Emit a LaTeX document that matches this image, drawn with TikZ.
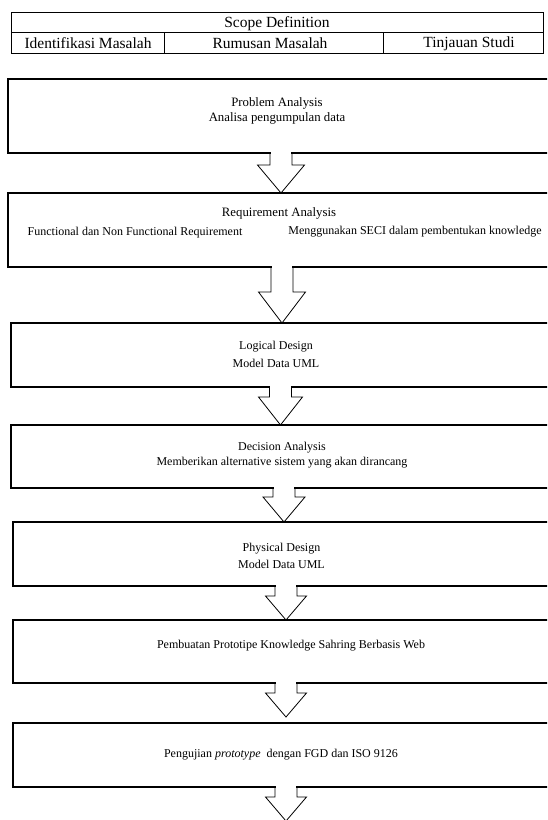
\documentclass[tikz,border=0pt]{standalone}
\usepackage{fontspec}
\setmainfont{Liberation Serif}
\usetikzlibrary{positioning}
\tikzset{
  stage/.style={draw, line width=1.1pt, inner sep=0pt, outer sep=0pt, anchor=north west},
  scopebox/.style={draw, line width=0.9pt, inner sep=0pt, outer sep=0pt, anchor=north west},
  lbl/.style={inner sep=0pt, font=\fontsize{12}{14}\selectfont},
  biglbl/.style={inner sep=0pt, font=\fontsize{12.8}{15}\selectfont},
  headlbl/.style={inner sep=0pt, font=\fontsize{15.5}{18}\selectfont},
  arr/.style={line width=0.8pt, line join=miter},
}
% block arrow below a box: box, x offset, shaft length, head length, head half width
\newcommand{\flowarrow}[5]{%
  \fill[white] ([xshift=#2pt-10.4pt, yshift=1pt]#1.south) rectangle ([xshift=#2pt+10.4pt, yshift=-#3pt]#1.south);
  \draw[arr] ([xshift=#2pt-11pt]#1.south) -- ++(0pt,-#3pt) -- ++(11pt-#5pt,0pt)
    -- ++(#5pt,-#4pt) -- ++(#5pt,#4pt) -- ++(11pt-#5pt,0pt) -- ++(0pt,#3pt);
}
\begin{document}
\begin{tikzpicture}[x=1pt,y=-1pt]
  \useasboundingbox (0,0) rectangle (547,820);
  \clip (0,0) rectangle (547,820);

  % scope table
  \node[scopebox, minimum width=532pt, minimum height=41pt] (scope) at (11,12) {};
  \draw[line width=0.9pt] (scope.west) -- (scope.east);
  \draw[line width=0.9pt] ([xshift=153pt]scope.south west) -- ([xshift=153pt]scope.west);
  \draw[line width=0.9pt] ([xshift=372pt]scope.south west) -- ([xshift=372pt]scope.west);
  \node[headlbl] (scopet) at (277,23.5) {Scope Definition};
  \node[headlbl] (idm) at (88,43.5) {Identifikasi Masalah};
  \node[headlbl] (rum) at (270,43.5) {Rumusan Masalah};
  \node[headlbl] (tin) at (469,43.5) {Tinjauan Studi};

  % stages
  \node[stage, minimum width=552pt, minimum height=74pt] (b1) at (8,79) {};
  \node[stage, minimum width=552pt, minimum height=74pt] (b2) at (8,193) {};
  \node[stage, minimum width=549pt, minimum height=64pt] (b3) at (11,323) {};
  \node[stage, minimum width=549pt, minimum height=63pt] (b4) at (11,425) {};
  \node[stage, minimum width=547pt, minimum height=64pt] (b5) at (13,522) {};
  \node[stage, minimum width=547pt, minimum height=63pt] (b6) at (13,620) {};
  \node[stage, minimum width=547pt, minimum height=64pt] (b7) at (13,723) {};

  \node[biglbl] (pa) at (277,103) {Problem Analysis};
  \node[biglbl] (pa2) at (277,118) {Analisa pengumpulan data};
  \node[biglbl] (ra) at (279,213) {Requirement Analysis};
  \node[lbl] (ra2) at (135,233) {Functional dan Non Functional Requirement};
  \node[lbl] (ra3) at (415,231.5) {Menggunakan SECI dalam pembentukan knowledge};
  \node[lbl] (ld) at (276,347) {Logical Design};
  \node[lbl] (ld2) at (276,363) {Model Data UML};
  \node[lbl] (da) at (282,448) {Decision Analysis};
  \node[lbl] (da2) at (282,463) {Memberikan alternative sistem yang akan dirancang};
  \node[lbl] (pd) at (281.5,549) {Physical Design};
  \node[lbl] (pd2) at (281.5,564) {Model Data UML};
  \node[lbl] (pp) at (291,646) {Pembuatan Prototipe Knowledge Sahring Berbasis Web};
  \node[lbl] (pu) at (281,755) {Pengujian \textit{prototype}\ \ dengan FGD dan ISO 9126};

  % arrows
  \flowarrow{b1}{-3}{12}{28}{23.5}
  \flowarrow{b2}{-2}{25}{31}{23.5}
  \flowarrow{b3}{-5}{10}{28}{22}
  \flowarrow{b4}{-1.5}{9}{25}{21}
  \flowarrow{b5}{-0.5}{10}{24}{20.5}
  \flowarrow{b6}{-0.5}{10}{24}{20.5}
  \flowarrow{b7}{-0.5}{10}{24}{20.5}
\end{tikzpicture}
\end{document}
